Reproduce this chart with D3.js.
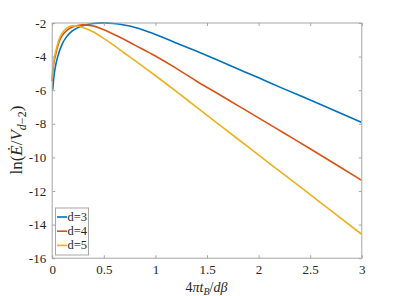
<!DOCTYPE html>
<html>
<head>
  <meta charset="utf-8" />
  <script src="https://d3js.org/d3.v7.min.js"></script>
  <style>
    body { margin: 0; background: #fff; }
    svg text { font-family: "Liberation Serif", "Times New Roman", Times, serif; fill: #262626; }
  </style>
</head>
<body>
  <div id="chart"></div>
  <script>
    // values
    const seriesNames = ["d=3", "d=4", "d=5"];
    const seriesColors = ["#0072BD", "#D95319", "#EDB120"];

    const d3Points = [[0.01,-6.0],[0.02,-5.3],[0.04,-4.5],[0.06,-4.0],[0.1,-3.3],[0.15,-2.8],[0.2,-2.5],[0.25,-2.32],[0.3,-2.19],
      [0.4,-2.06],[0.5,-2.02],[0.6,-2.06],[0.7,-2.15],[0.8,-2.28],[0.9,-2.47],[1.0,-2.7],[1.2,-3.2],[1.4,-3.7],[1.6,-4.22],
      [1.8,-4.75],[2.0,-5.28],[2.25,-5.95],[2.5,-6.6],[2.75,-7.27],[3.0,-7.94]];
    const d4Points = [[0.005,-5.5],[0.01,-5.0],[0.02,-4.45],[0.035,-4.0],[0.05,-3.6],[0.075,-3.1],[0.1,-2.8],[0.15,-2.45],
      [0.2,-2.27],[0.25,-2.18],[0.3,-2.14],[0.4,-2.2],[0.5,-2.42],[0.6,-2.7],[0.7,-3.0],[0.8,-3.33],[1.0,-3.98],[1.2,-4.7],
      [1.4,-5.48],[1.6,-6.2],[1.8,-6.93],[2.0,-7.66],[2.25,-8.58],[2.5,-9.5],[2.75,-10.44],[3.0,-11.38]];
    const d5Points = [[0.005,-5.4],[0.01,-4.9],[0.02,-4.3],[0.03,-3.95],[0.05,-3.45],[0.075,-2.95],[0.1,-2.65],[0.15,-2.32],
      [0.2,-2.2],[0.25,-2.21],[0.3,-2.3],[0.4,-2.55],[0.5,-2.93],[0.6,-3.35],[0.7,-3.8],[0.8,-4.24],[1.0,-5.14],[1.2,-6.07],
      [1.4,-7.02],[1.6,-7.97],[1.8,-8.92],[2.0,-9.86],[2.25,-11.04],[2.5,-12.22],[2.75,-13.4],[3.0,-14.59]];
    const allSeries = [d3Points, d4Points, d5Points];

    const xTicks = [0, 0.5, 1, 1.5, 2, 2.5, 3];
    const yTicks = [-2, -4, -6, -8, -10, -12, -14, -16];

    const width = 399, height = 296;
    const margin = { top: 22.5, right: 37.7, bottom: 38.3, left: 51.7 };
    const serif = "'Liberation Serif', 'Times New Roman', Times, serif";

    const svg = d3.select("#chart").append("svg")
      .attr("width", width)
      .attr("height", height);

    const x = d3.scaleLinear().domain([0, 3]).range([margin.left, width - margin.right]);
    const y = d3.scaleLinear().domain([-16, -2]).range([height - margin.bottom, margin.top]);

    const axisColor = "#a6a6a6";
    const tickLen = 3;

    // curves
    const line = d3.line().x(d => x(d[0])).y(d => y(d[1])).curve(d3.curveMonotoneX);
    svg.append("g").selectAll("path")
      .data(allSeries)
      .enter().append("path")
      .attr("d", line)
      .attr("fill", "none")
      .attr("stroke", (d, i) => seriesColors[i])
      .attr("stroke-width", 1.6);

    // box
    svg.append("rect")
      .attr("x", x(0) + 0.5).attr("y", y(-2) + 0.5)
      .attr("width", x(3) - x(0)).attr("height", y(-16) - y(-2))
      .attr("fill", "none").attr("stroke", axisColor).attr("stroke-width", 1);

    // axes, ticks inside on all four sides
    const xAxis = d3.axisBottom(x).tickValues(xTicks).tickSize(-tickLen).tickPadding(7)
      .tickFormat(d => String(d));
    const gx = svg.append("g").attr("transform", `translate(0.5,${y(-16) + 0.5})`).call(xAxis);
    const xTop = d3.axisTop(x).tickValues(xTicks).tickSize(-tickLen).tickFormat("");
    const gxt = svg.append("g").attr("transform", `translate(0.5,${y(-2) + 0.5})`).call(xTop);

    const yAxis = d3.axisLeft(y).tickValues(yTicks).tickSize(-tickLen).tickPadding(6)
      .tickFormat(d => String(d));
    const gy = svg.append("g").attr("transform", `translate(${x(0) + 0.5},0.5)`).call(yAxis);
    const yRight = d3.axisRight(y).tickValues(yTicks).tickSize(-tickLen).tickFormat("");
    const gyr = svg.append("g").attr("transform", `translate(${x(3) + 0.5},0.5)`).call(yRight);

    [gx, gxt, gy, gyr].forEach(g => {
      g.attr("font-family", serif);
      g.select(".domain").remove();
      g.selectAll(".tick line").attr("stroke", axisColor);
      g.selectAll(".tick text").attr("font-size", 13).attr("fill", "#262626")
        .attr("font-family", serif);
    });

    // x label
    const xl = svg.append("text")
      .attr("x", (x(0) + x(3)) / 2)
      .attr("y", 292)
      .attr("text-anchor", "middle")
      .attr("font-family", serif)
      .attr("font-size", 14);
    xl.append("tspan").text("4");
    xl.append("tspan").attr("font-style", "italic").text("πt");
    xl.append("tspan").attr("font-style", "italic").attr("font-size", 10).attr("dy", 3).text("B");
    xl.append("tspan").attr("dy", -3).text("/");
    xl.append("tspan").attr("font-style", "italic").text("dβ");

    // y label
    const yl = svg.append("text")
      .attr("transform", `translate(22,${(y(-2) + y(-16)) / 2}) rotate(-90)`)
      .attr("text-anchor", "middle")
      .attr("font-family", serif)
      .attr("font-size", 17);
    yl.append("tspan").text("ln(");
    yl.append("tspan").attr("font-style", "italic").text("E\u0307");
    yl.append("tspan").text("/");
    yl.append("tspan").attr("font-style", "italic").text("V");
    yl.append("tspan").attr("font-style", "italic").attr("font-size", 12).attr("dy", 4).text("d");
    yl.append("tspan").attr("font-size", 12).text("\u22122");
    yl.append("tspan").attr("dy", -4).text(")");

    // legend
    const legX = 55, legY = 207.5;
    const lg = svg.append("g").attr("transform", `translate(${legX},${legY})`);
    lg.append("rect")
      .attr("x", 0.5).attr("y", 0.5).attr("width", 33).attr("height", 47)
      .attr("fill", "#fff").attr("stroke", "#a6a6a6").attr("stroke-width", 1);
    seriesNames.forEach((name, i) => {
      const cy = 9.5 + i * 14.2;
      lg.append("line")
        .attr("x1", 2).attr("x2", 12).attr("y1", cy).attr("y2", cy)
        .attr("stroke", seriesColors[i]).attr("stroke-width", 1.6);
      lg.append("text")
        .attr("x", 12.5).attr("y", cy + 4)
        .attr("font-family", serif)
        .attr("font-size", 12.5)
        .text(name);
    });
  </script>
</body>
</html>
